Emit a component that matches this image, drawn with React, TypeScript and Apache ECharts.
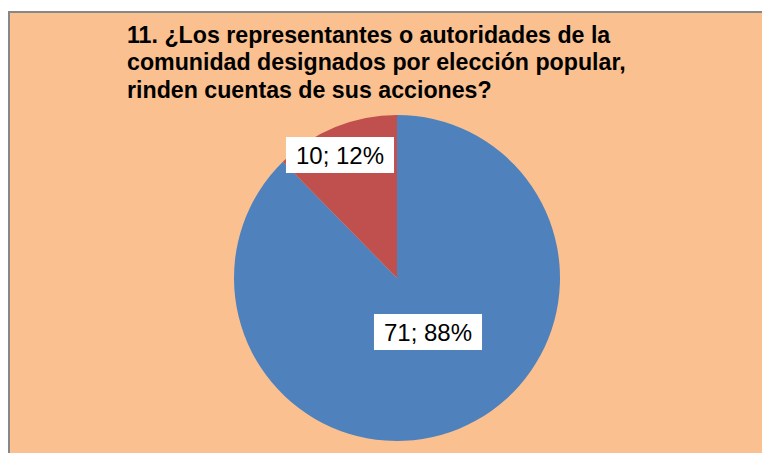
import React, { useEffect, useRef } from "react";
import * as echarts from "echarts";

const titleText = "11. ¿Los representantes o autoridades de la\ncomunidad designados por elección popular,\nrinden cuentas de sus acciones?";
const categories = ["Sí", "No"];
const values = [71, 10];
const colors = ["#4F81BD", "#C0504D"];
const labelPositions = [
  [428, 332],
  [340, 155],
];

export default function App() {
  const ref = useRef<HTMLDivElement>(null);
  useEffect(() => {
    if (!ref.current) return;
    const chart = echarts.init(ref.current, null, { renderer: "svg" });
    chart.setOption({
      animation: false,
      backgroundColor: "#ffffff",
      graphic: [
        {
          type: "rect",
          z: -10,
          shape: { x: 9, y: 12, width: 800, height: 500 },
          style: { fill: "#FAC090", stroke: "#878787", lineWidth: 2 },
        },
      ],
      title: {
        text: titleText,
        left: 122,
        top: 16,
        textStyle: {
          fontFamily: "Liberation Sans, Arial, sans-serif",
          fontSize: 23.2,
          fontWeight: "bold",
          lineHeight: 27.5,
          color: "#000000",
        },
      },
      series: [
        {
          type: "pie",
          center: [397, 278],
          radius: 163,
          startAngle: 90,
          clockwise: true,
          percentPrecision: 0,
          data: categories.map((name, i) => ({
            name,
            value: values[i],
            itemStyle: { color: colors[i] },
          })),
          label: {
            show: true,
            position: "inside",
            formatter: "{c}; {d}%",
            fontFamily: "Liberation Sans, Arial, sans-serif",
            fontSize: 24,
            lineHeight: 24,
            color: "#000000",
            backgroundColor: "#ffffff",
            padding: [6, 10],
          },
          labelLine: { show: false },
          labelLayout: (params: any) => {
            const p = labelPositions[params.dataIndex];
            return { x: p[0], y: p[1], align: "center", verticalAlign: "middle" };
          },
        },
      ],
    });
    return () => chart.dispose();
  }, []);
  return (
    <div style={{ position: "fixed", left: 0, top: 0, width: 762, height: 453, background: "#fff" }}>
      <div ref={ref} style={{ width: 762, height: 453 }} />
    </div>
  );
}
